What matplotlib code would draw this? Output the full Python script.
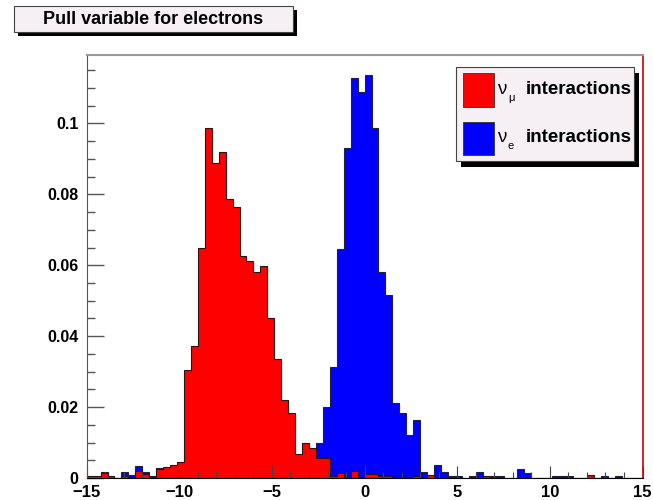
import numpy as np
import matplotlib
matplotlib.use("Agg")
import matplotlib.pyplot as plt
from matplotlib.patches import Rectangle

# 80 bins from -15 to 15 (width 0.375), normalised entries
edges = np.linspace(-15, 15, 81)

numu = [0.0006, 0.0006, 0.0013, 0.0007, 0.0, 0.0005, 0.0003, 0.0021, 0.0012, 0.0003,
        0.0025, 0.0030, 0.0037, 0.0044, 0.0305, 0.0373, 0.0650, 0.0986, 0.0889, 0.0919,
        0.0787, 0.0765, 0.0627, 0.0612, 0.0582, 0.0597, 0.0451, 0.0336, 0.0220, 0.0183,
        0.0067, 0.0098, 0.0084, 0.0057, 0.0057, 0.0007, 0.0013, 0.0003, 0.0020, 0.0003,
        0.0012, 0.0012, 0.0007, 0.0007, 0.0003, 0.0003, 0.0003, 0.0007, 0.0, 0.0008,
        0.0, 0.0, 0.0, 0.0, 0.0, 0.0, 0.0, 0.0007, 0.0, 0.0,
        0.0, 0.0, 0.0, 0.0, 0.0, 0.0, 0.0, 0.0, 0.0, 0.0,
        0.0, 0.0, 0.0008, 0.0, 0.0, 0.0, 0.0, 0.0, 0.0, 0.0]

nue = [0.0003, 0.0003, 0.0017, 0.0003, 0.0, 0.0016, 0.0009, 0.0035, 0.0016, 0.0006,
       0.0027, 0.0010, 0.0007, 0.0010, 0.0007, 0.0010, 0.0007, 0.0013, 0.0010, 0.0007,
       0.0010, 0.0013, 0.0007, 0.0010, 0.0013, 0.0010, 0.0013, 0.0016, 0.0016, 0.0020,
       0.0030, 0.0040, 0.0050, 0.0100, 0.0201, 0.0313, 0.0646, 0.0931, 0.1127, 0.1090,
       0.1136, 0.0986, 0.0581, 0.0517, 0.0211, 0.0183, 0.0120, 0.0164, 0.0016, 0.0003,
       0.0037, 0.0016, 0.0007, 0.0007, 0.0, 0.0007, 0.0016, 0.0003, 0.0007, 0.0007,
       0.0, 0.0, 0.0025, 0.0013, 0.0, 0.0, 0.0, 0.0007, 0.0007, 0.0007,
       0.0, 0.0, 0.0, 0.0, 0.0007, 0.0, 0.0007, 0.0, 0.0, 0.0]

xticks = [-15, -10, -5, 0, 5, 10, 15]
xlabels = ["\u221215", "\u221210", "\u22125", "0", "5", "10", "15"]
yticks = [0, 0.02, 0.04, 0.06, 0.08, 0.1]
ylabels = ["0", "0.02", "0.04", "0.06", "0.08", "0.1"]

title = "Pull variable for electrons"

W, H = 653, 500
plt.rcParams["font.family"] = ["Liberation Sans", "DejaVu Sans"]
fig = plt.figure(figsize=(W / 100, H / 100), dpi=100)
ax = fig.add_axes([86.7 / W, 22 / H, (642.5 - 86.7) / W, (478 - 55) / H])

ax.stairs(nue, edges, fill=True, facecolor="#0000ff", edgecolor="#202040", lw=0.8)
ax.stairs(numu, edges, fill=True, facecolor="#ff0000", edgecolor="#301010", lw=0.8)

ax.set_xlim(-15, 15)
ax.set_ylim(0, 0.1193)
ax.set_xticks(xticks)
ax.set_xticklabels(xlabels, fontsize=12, fontweight="bold")
ax.set_yticks(yticks)
ax.set_yticklabels(ylabels, fontsize=11.5, fontweight="bold")
ax.set_xticks(np.arange(-15, 16, 1), minor=True)
ax.set_yticks(np.arange(0, 0.1193, 0.005), minor=True)
ax.tick_params(axis="x", which="major", direction="in", length=8.6, width=0.8, pad=5, color="#444444")
ax.tick_params(axis="x", which="minor", direction="in", length=4.3, width=0.8, color="#444444")
ax.tick_params(axis="y", which="major", direction="in", length=12, width=1.0, pad=6, color="#555555")
ax.tick_params(axis="y", which="minor", direction="in", length=6, width=1.0, color="#555555")

ax.spines["top"].set_color("#999999")
ax.spines["top"].set_linewidth(1.5)
ax.spines["left"].set_color("#555555")
ax.spines["right"].set_color("#cc0000")
ax.spines["right"].set_linewidth(1.2)
ax.spines["bottom"].set_color("#000000")


def box(x, y, w, h, **kw):
    r = Rectangle((x / W, 1 - (y + h) / H), w / W, h / H, transform=fig.transFigure, **kw)
    fig.add_artist(r)


def ptext(x, y, s, **kw):
    fig.text(x / W, 1 - y / H, s, zorder=5, **kw)


pane = "#f6eff3"

# title box with shadow
box(18, 10, 279, 25.7, facecolor="black", edgecolor="none", zorder=2)
box(14, 6, 279, 25.7, facecolor=pane, edgecolor="#444444", lw=0.8, zorder=3)
ptext(153.5, 19.5, title, fontsize=13, fontweight="bold", ha="center", va="center")

# legend box with shadow
box(461, 72.7, 178.3, 94.3, facecolor="black", edgecolor="none", zorder=2)
box(456, 66.7, 178.3, 94.3, facecolor=pane, edgecolor="#444444", lw=0.8, zorder=3)
box(462.7, 73.3, 31.3, 33.4, facecolor="#ff0000", edgecolor="#333333", lw=0.6, zorder=4)
box(462.7, 121.7, 31.3, 33.3, facecolor="#0000ff", edgecolor="#333333", lw=0.6, zorder=4)

ptext(497.5, 90, "\u03bd", fontsize=13.5, ha="left", va="center")
ptext(508, 98, "\u03bc", fontsize=8, ha="left", va="center")
ptext(525.5, 90, "interactions", fontsize=13.5, fontweight="bold", ha="left", va="center")
ptext(497.5, 138, "\u03bd", fontsize=13.5, ha="left", va="center")
ptext(508, 146, "e", fontsize=8, ha="left", va="center")
ptext(525.5, 138, "interactions", fontsize=13.5, fontweight="bold", ha="left", va="center")

fig.savefig("out.png", dpi=100)
